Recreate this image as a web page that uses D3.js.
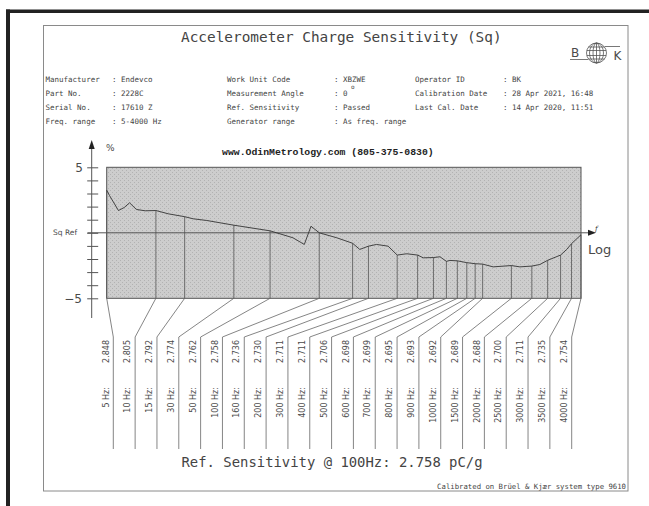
<!DOCTYPE html>
<html>
<head>
<meta charset="utf-8">
<script src="https://cdn.jsdelivr.net/npm/d3@7"></script>
<style>
  html, body { margin: 0; padding: 0; background: #fff; }
  svg { display: block; }
  .mono { font-family: "DejaVu Sans Mono", monospace; fill: #444; }
  .lbl { font-family: "DejaVu Sans", sans-serif; fill: #4a4a4a; }
</style>
</head>
<body>
<svg id="chart"></svg>
<script>
// calibration points (Hz) and measured charge sensitivity (pC/g)
const freqs = [5, 10, 15, 30, 50, 100, 160, 200, 300, 400, 500, 600, 700, 800, 900, 1000, 1500, 2000, 2500, 3000, 3500, 4000];
const sensitivities = [2.848, 2.805, 2.792, 2.774, 2.762, 2.758, 2.736, 2.730, 2.711, 2.711, 2.706, 2.698, 2.699, 2.695, 2.693, 2.692, 2.689, 2.688, 2.700, 2.711, 2.735, 2.754];
const refSensitivity = 2.758;

// continuous sweep, deviation in % from Sq Ref
const sweepFreqs = [5, 5.2, 5.9, 6.4, 6.9, 7.6, 8.6, 10, 11.9, 15, 16.9, 20.5, 30, 50, 69, 81, 89, 100, 128, 160, 177, 200, 224, 264, 300, 343, 400, 433, 500, 548, 600, 631, 700, 800, 900, 1000, 1160, 1500, 1690, 2000, 2240, 2500, 3000, 3270, 3500, 4000];
const sweepDev = [3.25, 2.85, 1.70, 1.93, 2.29, 1.78, 1.68, 1.70, 1.45, 1.23, 1.07, 0.94, 0.58, 0.15, -0.38, -0.89, 0.50, 0.0, -0.38, -0.80, -1.27, -1.02, -0.89, -1.02, -1.70, -1.60, -1.70, -1.91, -1.89, -1.83, -2.18, -2.11, -2.14, -2.28, -2.36, -2.39, -2.60, -2.50, -2.60, -2.54, -2.42, -2.10, -1.70, -1.27, -0.83, -0.15];

const yTicks = [-5, -4, -3, -2, -1, 0, 1, 2, 3, 4, 5];
const yTickLabels = ["−5", "5"];

const infoCols = [
  {labels: ["Manufacturer", "Part No.", "Serial No.", "Freq. range"],
   values: [": Endevco", ": 2228C", ": 17610 Z", ": 5-4000 Hz"]},
  {labels: ["Work Unit Code", "Measurement Angle", "Ref. Sensitivity", "Generator range"],
   values: [": XBZWE", ": 0", ": Passed", ": As freq. range"]},
  {labels: ["Operator ID", "Calibration Date", "Last Cal. Date"],
   values: [": BK", ": 28 Apr 2021, 16:48", ": 14 Apr 2020, 11:51"]}
];

const W = 649, H = 506;
const svg = d3.select("#chart").attr("width", W).attr("height", H);

// dithered grey fill like the scan
const pat = svg.append("defs").append("pattern").attr("id", "dither")
  .attr("patternUnits", "userSpaceOnUse").attr("width", 4).attr("height", 4);
pat.append("rect").attr("width", 4).attr("height", 4).attr("fill", "#cdcdcd");
pat.append("rect").attr("x", 0).attr("y", 0).attr("width", 1).attr("height", 1).attr("fill", "#b2b2b2");
pat.append("rect").attr("x", 2).attr("y", 2).attr("width", 1).attr("height", 1).attr("fill", "#b2b2b2");

// scanned page border
svg.append("rect").attr("x", 6).attr("y", 9.5).attr("width", W - 6).attr("height", 3.5).attr("fill", "#222");
svg.append("rect").attr("x", 6).attr("y", 9.5).attr("width", 4).attr("height", H).attr("fill", "#222");

// frame
svg.append("rect").attr("x", 43.5).attr("y", 25.5).attr("width", 584.5).attr("height", 465.5)
  .attr("fill", "none").attr("stroke", "#8a8a8a").attr("stroke-width", 1);

// title
svg.append("text").attr("class", "mono").attr("x", 181).attr("y", 42)
  .style("font-size", "14.4px").text("Accelerometer Charge Sensitivity (Sq)");

// B&K logo
const logo = svg.append("g").attr("stroke", "#555").attr("fill", "none").attr("stroke-width", 0.8);
logo.append("circle").attr("cx", 596.5).attr("cy", 53).attr("r", 10);
[3.5, 7].forEach(rx => logo.append("ellipse").attr("cx", 596.5).attr("cy", 53).attr("rx", rx).attr("ry", 10));
logo.append("line").attr("x1", 596.5).attr("x2", 596.5).attr("y1", 43).attr("y2", 63);
[-6, -2.5, 2.5, 6].forEach(d => {
  const hw = Math.sqrt(100 - d * d);
  logo.append("line").attr("x1", 596.5 - hw).attr("x2", 596.5 + hw).attr("y1", 53 + d).attr("y2", 53 + d);
});
logo.append("line").attr("x1", 570).attr("x2", 588).attr("y1", 59.5).attr("y2", 59.5);
logo.append("line").attr("x1", 605).attr("x2", 620).attr("y1", 46.5).attr("y2", 46.5);
svg.append("text").attr("class", "lbl").attr("x", 571).attr("y", 56.5).style("font-size", "12px").text("B");
svg.append("text").attr("class", "lbl").attr("x", 613.5).attr("y", 60).style("font-size", "12px").text("K");

// info block
const colX = [[45.5, 112], [227, 334], [415, 503]];
const rowY = [81.5, 96, 110, 123.5];
infoCols.forEach((c, i) => {
  c.labels.forEach((t, j) => {
    svg.append("text").attr("class", "mono").attr("x", colX[i][0]).attr("y", rowY[j])
      .style("font-size", "7.5px").text(t);
    svg.append("text").attr("class", "mono").attr("x", colX[i][1]).attr("y", rowY[j])
      .style("font-size", "7.5px").text(c.values[j]);
  });
});
svg.append("text").attr("class", "mono").attr("x", 351).attr("y", 89).style("font-size", "6px").text("o");

svg.append("text").attr("x", 222).attr("y", 154.5)
  .style("font-family", "Liberation Mono, monospace").style("font-weight", "bold")
  .style("font-size", "9.8px").style("fill", "#222").text("www.OdinMetrology.com (805-375-0830)");

// scales
const x = d3.scaleLog().domain([5, 4000]).range([106.7, 581]);
const y = d3.scaleLinear().domain([-5, 5]).range([298.3, 167.3]);
const dev = s => (s / refSensitivity - 1) * 100;

// plot area
svg.append("rect").attr("x", x(5)).attr("y", y(5)).attr("width", x(4000) - x(5)).attr("height", y(-5) - y(5))
  .attr("fill", "url(#dither)").attr("stroke", "#555").attr("stroke-width", 1);

// y axis
const axisX = 91.7;
const yAxis = svg.append("g").attr("transform", `translate(${axisX + 6.5},0)`)
  .call(d3.axisLeft(y).tickValues(yTicks).tickSize(11).tickFormat(""));
yAxis.select(".domain").remove();
yAxis.selectAll("line").attr("stroke", "#555");
svg.append("line").attr("x1", axisX).attr("x2", axisX).attr("y1", 148).attr("y2", 318)
  .attr("stroke", "#555").attr("stroke-width", 1);
svg.append("path").attr("d", `M${axisX},140 L${axisX - 3},149 L${axisX + 3},149 Z`).attr("fill", "#222");
svg.append("text").attr("class", "lbl").attr("x", 106).attr("y", 151).style("font-size", "9px").text("%");
svg.append("text").attr("class", "lbl").attr("x", 83).attr("y", y(5) + 4.5).attr("text-anchor", "end")
  .style("font-size", "12px").text(yTickLabels[1]);
svg.append("text").attr("class", "lbl").attr("x", 82).attr("y", y(-5) + 4.5).attr("text-anchor", "end")
  .style("font-size", "12px").text(yTickLabels[0]);
svg.append("text").attr("class", "lbl").attr("x", 53).attr("y", y(0) + 2.5).style("font-size", "7.5px").text("Sq Ref");

// Sq Ref line with arrow
svg.append("line").attr("x1", 87.5).attr("x2", 590).attr("y1", y(0)).attr("y2", y(0))
  .attr("stroke", "#555").attr("stroke-width", 1);
svg.append("path").attr("d", `M596,${y(0)} L588,${y(0) - 3} L588,${y(0) + 3} Z`).attr("fill", "#222");
svg.append("text").attr("x", 595).attr("y", y(0) - 2).style("font-family", "DejaVu Serif, serif")
  .style("font-style", "italic").style("font-size", "7px").style("fill", "#333").text("f");
svg.append("text").attr("class", "lbl").attr("x", 588).attr("y", y(0) + 21).style("font-size", "13px").text("Log");

// drop lines from curve to bottom of plot
svg.append("g").selectAll("line").data(freqs).join("line")
  .attr("x1", d => x(d)).attr("x2", d => x(d))
  .attr("y1", (d, i) => y(dev(sensitivities[i]))).attr("y2", y(-5))
  .attr("stroke", "#555").attr("stroke-width", 0.8);

// sweep curve
const sweep = sweepFreqs.map((f, i) => [f, sweepDev[i]]);
svg.append("path").datum(sweep)
  .attr("d", d3.line().x(d => x(d[0])).y(d => y(d[1])))
  .attr("fill", "none").attr("stroke", "#333").attr("stroke-width", 0.9);

// label columns
const col = d3.scalePoint().domain(freqs).range([113.3, 571.7]);
const kinkY = 337, bottomY = 449;
svg.append("g").selectAll("path").data(freqs).join("path")
  .attr("d", d => `M${x(d)},${y(-5)} L${col(d)},${kinkY} L${col(d)},${bottomY}`)
  .attr("fill", "none").attr("stroke", "#666").attr("stroke-width", 0.8);

const labels = svg.append("g");
freqs.forEach((f, i) => {
  labels.append("text").attr("class", "lbl")
    .attr("transform", `translate(${col(f) - 4.8},340) rotate(-90)`)
    .attr("text-anchor", "end").style("font-size", "8px")
    .text(sensitivities[i].toFixed(3));
  labels.append("text").attr("class", "lbl")
    .attr("transform", `translate(${col(f) - 4.8},387) rotate(-90)`)
    .attr("text-anchor", "end").style("font-size", "8px")
    .text(f + " Hz:");
});

// footer
svg.append("text").attr("class", "mono").attr("x", 181.5).attr("y", 467)
  .style("font-size", "13.9px").text("Ref. Sensitivity @ 100Hz: " + refSensitivity.toFixed(3) + " pC/g");
svg.append("text").attr("class", "mono").attr("x", 626).attr("y", 488.5).attr("text-anchor", "end")
  .style("font-size", "7.3px").text("Calibrated on Brüel & Kjær system type 9610");
</script>
</body>
</html>
